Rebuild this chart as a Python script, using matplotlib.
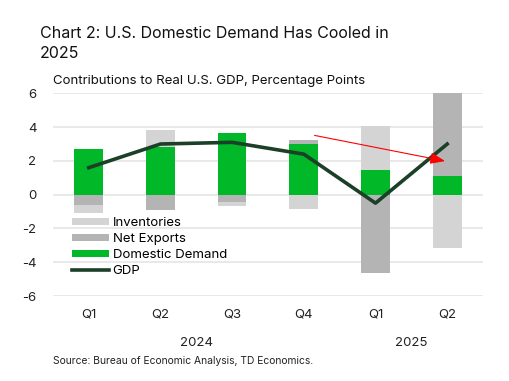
import matplotlib
matplotlib.use("Agg")
import matplotlib.pyplot as plt
import numpy as np

quarters = ["Q1", "Q2", "Q3", "Q4", "Q1", "Q2"]
years = ["2024", "2025"]
domestic = [2.72, 2.82, 3.67, 2.98, 1.48, 1.08]
net_exports = [-0.63, -0.89, -0.45, 0.23, -4.62, 4.99]
inventories = [-0.46, 1.03, -0.22, -0.83, 2.58, -3.16]
gdp = [1.6, 3.0, 3.1, 2.4, -0.5, 3.0]

C_DOM = "#00B828"
C_NX = "#B4B4B4"
C_INV = "#D4D4D4"
C_GDP = "#1C3F27"

plt.rcParams['font.family'] = ['Inter', 'DejaVu Sans']
fig = plt.figure(figsize=(5.09, 3.81), dpi=100)
ax = fig.add_axes([0.104, 0.223, 0.845, 0.532])

x = np.arange(len(quarters))
w = 0.4
pos_base = np.zeros(len(x))
neg_base = np.zeros(len(x))
handles = {}
for name, vals, col in [("Domestic Demand", domestic, C_DOM),
                        ("Net Exports", net_exports, C_NX),
                        ("Inventories", inventories, C_INV)]:
    vals = np.array(vals)
    bottoms = np.where(vals >= 0, pos_base, neg_base)
    handles[name] = ax.bar(x, vals, w, bottom=bottoms, color=col, zorder=2, label=name)
    pos_base = pos_base + np.where(vals >= 0, vals, 0)
    neg_base = neg_base + np.where(vals < 0, vals, 0)

ln, = ax.plot(x, gdp, color=C_GDP, lw=2.6, zorder=4, label="GDP")

ax.annotate("", xy=(4.97, 1.99), xytext=(3.15, 3.51),
            arrowprops=dict(arrowstyle="-|>,head_length=0.9,head_width=0.35",
                            color="#FF0000", lw=0.8, shrinkA=0, shrinkB=0), zorder=5)

ax.set_xlim(-0.5, len(x) - 0.5)
ax.set_ylim(-6, 6)
ax.set_yticks([-6, -4, -2, 0, 2, 4, 6])
ax.set_yticklabels(["-6", "-4", "-2", "0", "2", "4", "6"])
ax.set_xticks(x)
ax.set_xticklabels(quarters)
ax.grid(axis='y', color="#E3E3E3", lw=1.1, zorder=0)
ax.set_axisbelow(True)
for s in ax.spines.values():
    s.set_visible(False)
ax.tick_params(axis='both', length=0, labelsize=9.5, colors="#222222")
ax.tick_params(axis='y', pad=12)
ax.tick_params(axis='x', pad=9)

ax.text(1.5, -8.8, years[0], ha='center', va='center', fontsize=9.5, color="#222222")
ax.text(4.5, -8.8, years[1], ha='center', va='center', fontsize=9.5, color="#222222")

leg = ax.legend([handles["Inventories"], handles["Net Exports"], handles["Domestic Demand"], ln],
                ["Inventories", "Net Exports", "Domestic Demand", "GDP"],
                loc="lower left", bbox_to_anchor=(0.033, 0.068), frameon=False,
                fontsize=9.5, handlelength=2.75, handleheight=0.45, handletextpad=0.3,
                labelspacing=0.3, borderaxespad=0)

fig.text(0.079, 0.886, "Chart 2: U.S. Domestic Demand Has Cooled in\n2025", fontsize=11.5,
         ha='left', va='center', color="#111111", linespacing=1.35)
fig.text(0.104, 0.788, "Contributions to Real U.S. GDP, Percentage Points", fontsize=9.5,
         ha='left', va='center', color="#111111")
fig.text(0.104, 0.052, "Source: Bureau of Economic Analysis, TD Economics.", fontsize=7.4,
         ha='left', va='center', color="#222222")

fig.savefig("out.png", dpi=100)
